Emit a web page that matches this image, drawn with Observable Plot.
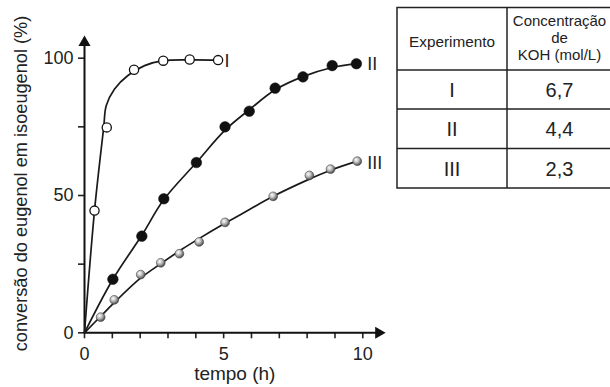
<!DOCTYPE html>
<html><head><meta charset="utf-8">
<script src="https://cdn.jsdelivr.net/npm/d3@7"></script>
<script src="https://cdn.jsdelivr.net/npm/@observablehq/plot@0.6"></script>
<style>
html,body{margin:0;background:#fff;font-family:"Liberation Sans",Arial,sans-serif;overflow:hidden;}
#chart{position:absolute;left:0;top:0;width:610px;height:387px;overflow:hidden;}
</style></head><body>
<div id="chart"></div>
<script>
// ---- data ----
// Experiment I (open circles)
const tI = [0.36, 0.8, 1.78, 2.83, 3.78, 4.8];
const yI = [44.5, 74.8, 95.8, 99.1, 99.5, 99.3];
// Experiment II (black dots)
const tII = [1.02, 2.06, 2.85, 4.02, 5.05, 5.92, 6.85, 7.85, 8.9, 9.77];
const yII = [19.5, 35.2, 48.8, 62.0, 75.0, 80.7, 89.1, 93.2, 97.3, 98.0];
// Experiment III (grey balls)
const tIII = [0.58, 1.07, 2.02, 2.74, 3.41, 4.12, 5.05, 6.78, 8.08, 8.84, 9.8];
const yIII = [5.7, 12.0, 21.2, 25.5, 28.8, 33.1, 40.2, 49.7, 57.3, 59.6, 62.5];
// fitted curves
const curveIt = [0, 0.36, 0.69, 0.78, 1.08, 1.56, 2.16, 2.83, 3.8, 4.8];
const curveIy = [0, 44.5, 74.8, 82.7, 88.8, 93.7, 97.3, 99.1, 99.4, 99.3];
const curveIIt = [0, 1.02, 2.06, 2.85, 4.02, 5.05, 5.92, 6.85, 7.85, 8.9, 9.77];
const curveIIy = [0, 19.5, 35.5, 48.5, 62.0, 73.8, 81.2, 88.5, 93.3, 96.6, 98.0];
const curveIIIt = [0, 0.58, 1.05, 2.0, 2.73, 3.5, 4.1, 5.0, 5.6, 6.78, 8.0, 8.84, 9.8];
const curveIIIy = [0, 6.0, 10.8, 19.8, 25.1, 30.4, 34.2, 39.6, 43.0, 49.7, 55.6, 59.2, 62.5];
// labels
const seriesNames = ["I", "II", "III"];
const seriesLabelX = [5.03, 10.16, 10.16];
const seriesLabelY = [98.8, 97.7, 61.8];
const xTicks = [0,1,2,3,4,5,6,7,8,9,10];
const xTickLabels = [0, 5, 10];
const yTicks = [0, 25, 50, 75, 100];
const yTickLabels = [0, 50, 100];
const xLabel = "tempo (h)";
const yLabel = "conversão do eugenol em isoeugenol (%)";
const tableHeader1 = "Experimento";
const tableHeader2 = ["Concentração", "de", "KOH (mol/L)"];
const tableExp = ["I", "II", "III"];
const tableKOH = ["6,7", "4,4", "2,3"];

const zip = (xs, ys) => xs.map((x, i) => ({x, y: ys[i]}));
const font = '"Liberation Sans", Arial, sans-serif';

const plot = Plot.plot({
  width: 610, height: 387,
  marginLeft: 84, marginRight: 247.7, marginTop: 57.7, marginBottom: 54.7,
  x: {domain: [0, 10]},
  y: {domain: [0, 100]},
  style: {fontFamily: font, fontSize: "18px", color: "#222", background: "transparent", overflow: "hidden"},
  marks: [
    Plot.axisX({ticks: xTicks, tickSize: 6, tickFormat: () => "", label: null, strokeWidth: 1.6}),
    Plot.axisX({ticks: xTickLabels, tickSize: 0, tickPadding: 14, label: null, fontSize: 18}),
    Plot.axisY({ticks: yTicks, tickSize: 6, tickFormat: () => "", label: null, strokeWidth: 1.6}),
    Plot.axisY({ticks: yTickLabels, tickSize: 0, tickPadding: 11, label: null, fontSize: 18}),
    Plot.ruleY([0], {x1: 0, x2: 10.5, stroke: "#111", strokeWidth: 2}),
    Plot.ruleX([0], {y1: 0, y2: 105, stroke: "#111", strokeWidth: 2}),
    Plot.dot([{x: 10.57, y: 0}], {x: "x", y: "y", symbol: "triangle", r: 4.5, rotate: 90, fill: "#111"}),
    Plot.dot([{x: 0, y: 105.7}], {x: "x", y: "y", symbol: "triangle", r: 4.5, fill: "#111"}),
    Plot.line(zip(curveIt, curveIy), {x: "x", y: "y", curve: "catmull-rom", stroke: "#1a1a1a", strokeWidth: 1.7}),
    Plot.line(zip(curveIIt, curveIIy), {x: "x", y: "y", curve: "catmull-rom", stroke: "#1a1a1a", strokeWidth: 1.7}),
    Plot.line(zip(curveIIIt, curveIIIy), {x: "x", y: "y", curve: "catmull-rom", stroke: "#1a1a1a", strokeWidth: 1.7}),
    Plot.dot(zip(tI, yI), {x: "x", y: "y", r: 4.6, fill: "white", stroke: "#111", strokeWidth: 1.3}),
    Plot.dot(zip(tII, yII), {x: "x", y: "y", r: 5.3, fill: "#111", stroke: "#111", strokeWidth: 0.5}),
    Plot.dot(zip(tIII, yIII), {x: "x", y: "y", r: 4.4, fill: "url(#gball)", stroke: "#444", strokeWidth: 0.6}),
    Plot.text(seriesNames.map((s, i) => ({s, x: seriesLabelX[i], y: seriesLabelY[i]})),
      {x: "x", y: "y", text: "s", textAnchor: "start", fontSize: 18, fill: "#222"}),
    Plot.text([{t: xLabel, x: 5.4, y: 0}], {x: "x", y: "y", text: "t", textAnchor: "middle", lineAnchor: "bottom", dy: 47.5, fontSize: 19, fill: "#222"}),
    Plot.text([{t: yLabel, x: 0, y: 50}], {x: "x", y: "y", text: "t", rotate: -90, textAnchor: "middle", lineAnchor: "bottom", dx: -58, dy: -12, fontSize: 18.2, fill: "#222"})
  ]
});

const svg = d3.select(plot);
svg.insert("defs", ":first-child").html(
  `<radialGradient id="gball" cx="38%" cy="35%" r="70%">
     <stop offset="0" stop-color="#ffffff"/>
     <stop offset="0.45" stop-color="#b8b8b8"/>
     <stop offset="1" stop-color="#3a3a3a"/>
   </radialGradient>`);

// table drawn inside the same SVG (layout in pixels)
const T = {left: 397, mid: 507, right: 614, rows: [7.5, 70, 109, 148.5, 188]};
const g = svg.append("g").attr("font-family", font).attr("fill", "#222");
const c1 = (T.left + T.mid) / 2, c2 = (T.mid + T.right) / 2 - 1;
g.append("rect").attr("x", T.left).attr("y", T.rows[0])
  .attr("width", T.right - T.left).attr("height", T.rows[4] - T.rows[0])
  .attr("fill", "none").attr("stroke", "#222").attr("stroke-width", 1.5);
g.append("line").attr("x1", T.mid).attr("x2", T.mid).attr("y1", T.rows[0]).attr("y2", T.rows[4])
  .attr("stroke", "#222").attr("stroke-width", 1.5);
T.rows.slice(1, 4).forEach(yy => g.append("line").attr("x1", T.left).attr("x2", T.right)
  .attr("y1", yy).attr("y2", yy).attr("stroke", "#222").attr("stroke-width", 1.5));
g.append("text").attr("x", c1).attr("y", 46.5).attr("text-anchor", "middle")
  .attr("font-size", 15.3).text(tableHeader1);
tableHeader2.forEach((s, i) => g.append("text").attr("x", c2).attr("y", 25.5 + i * 17)
  .attr("text-anchor", "middle").attr("font-size", 15).text(s));
tableExp.forEach((e, i) => {
  const yy = (T.rows[i + 1] + T.rows[i + 2]) / 2 + 7.5;
  g.append("text").attr("x", c1).attr("y", yy).attr("text-anchor", "middle").attr("font-size", 20).text(e);
  g.append("text").attr("x", c2).attr("y", yy).attr("text-anchor", "middle").attr("font-size", 20).text(tableKOH[i]);
});

document.getElementById("chart").appendChild(plot);
</script>
</body></html>
